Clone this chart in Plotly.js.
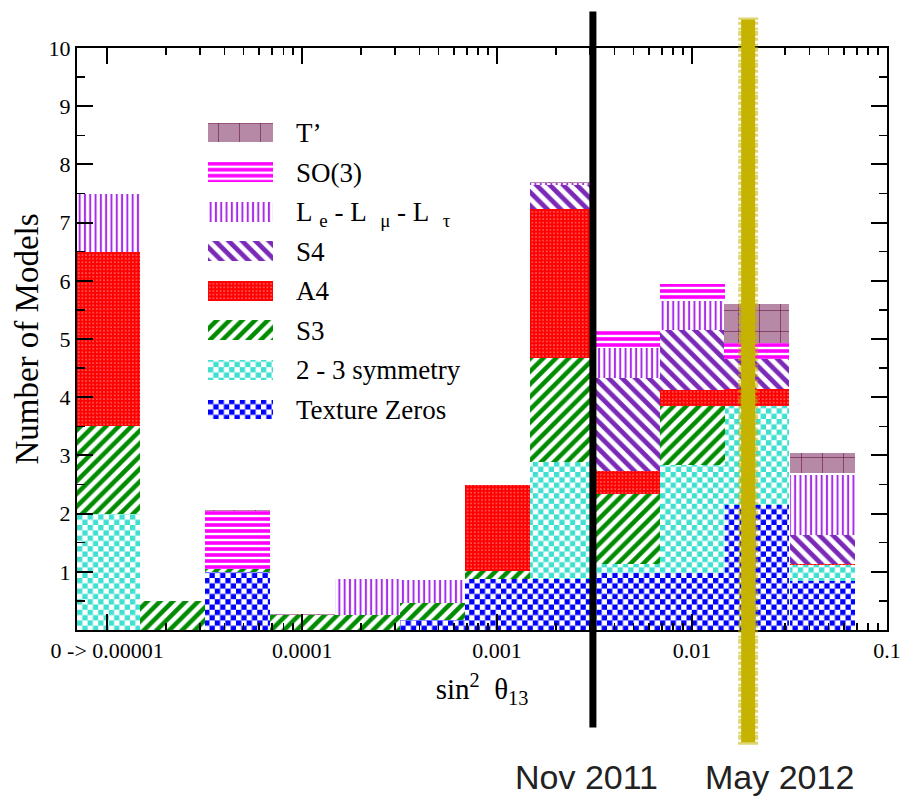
<!DOCTYPE html>
<html>
<head>
<meta charset="utf-8">
<script src="https://cdn.plot.ly/plotly-3.0.1.min.js"></script>
<style>html,body{margin:0;padding:0;background:#fff}</style>
</head>
<body>
<div id="chart" style="width:903px;height:802px"></div>
<script>
// Bin centres in log10(sin^2 theta13); every bin spans one third of a decade.
const binLog10 = [-5, -4.667, -4.333, -4, -3.667, -3.333, -3, -2.667, -2.333, -2, -1.667, -1.333];
const binWidth = 1 / 3;

// Bottom axis labels (decades)
const tickLog10 = [-5, -4, -3, -2, -1];
const tickLabels = ['0 -> 0.00001', '0.0001', '0.001', '0.01', '0.1'];
const yTicks = [1, 2, 3, 4, 5, 6, 7, 8, 9, 10];

// Number of models per bin, one array per symmetry class (stacked bottom to top)
const textureZeros = [0, 0, 1.0, 0, 0, 0.18, 0.88, 0.88, 0.98, 0.98, 2.14, 0.84];
const twoThreeSym  = [2.0, 0, 0, 0, 0, 0, 0, 2.0, 0.16, 1.86, 1.71, 0.28];
const s3           = [1.5, 0.5, 0.05, 0.26, 0.26, 0.28, 0.14, 1.8, 1.19, 1.01, 0, 0];
const a4           = [3.0, 0, 0, 0, 0, 0, 1.48, 2.56, 0.41, 0.28, 0.29, 0.02];
const s4           = [0, 0, 0, 0, 0, 0, 0, 0.41, 1.59, 1.02, 0.51, 0.5];
const leLmuLtau    = [1.0, 0, 0, 0, 0.61, 0.4, 0, 0.03, 0.51, 0.5, 0, 1.03];
const so3          = [0, 0, 1.0, 0, 0, 0, 0, 0, 0.32, 0.3, 0.28, 0.03];
const tPrime       = [0, 0, 0.01, 0.01, 0, 0, 0, 0.02, 0, 0, 0.68, 0.34];

const seriesNames = ['Texture Zeros', '2 - 3 symmetry', 'S3', 'A4', 'S4', 'Le-Lmu-Ltau', 'SO(3)', "T'"];
const legendLabels = ['Texture Zeros', '2 - 3 symmetry', 'S3', 'A4', 'S4',
  'L\u00A0<sub>e</sub>\u00A0-\u00A0L\u00A0\u00A0<sub>\u03BC</sub>\u00A0-\u00A0L\u00A0\u00A0<sub>\u03C4</sub>',
  'SO(3)', 'T\u2019'];
const seriesValues = [textureZeros, twoThreeSym, s3, a4, s4, leLmuLtau, so3, tPrime];

// Measurement dates (sin^2 theta13)
const nov2011 = 0.0031;
const may2012 = 0.0194;
const dateLabels = ['Nov 2011', 'May 2012'];

const SERIF = '"Liberation Serif", "Times New Roman", Times, serif';
const SANS = '"Liberation Sans", Arial, Helvetica, sans-serif';
const CHECK = 10.6;   // checkerboard tile size

const markerStyles = [
  {color: '#ffffff', line: {width: 0}, pattern: {shape: '.', fillmode: 'overlay', fgcolor: '#0000ff', fgopacity: 1, size: CHECK, solidity: 0.5}},
  {color: '#ffffff', line: {width: 0}, pattern: {shape: '.', fillmode: 'overlay', fgcolor: '#40e0d0', fgopacity: 1, size: CHECK, solidity: 0.5}},
  {color: '#ffffff', line: {width: 0}, pattern: {shape: '/', fillmode: 'overlay', fgcolor: '#008c00', fgopacity: 1, size: 9, solidity: 0.5}},
  {color: '#ff0000', line: {width: 0}, pattern: {shape: '.', fillmode: 'overlay', fgcolor: '#ff9a9a', fgopacity: 1, size: 3.6, solidity: 0.14}},
  {color: '#ffffff', line: {width: 0}, pattern: {shape: '\\', fillmode: 'overlay', fgcolor: '#7b2ab8', fgopacity: 1, size: 9.5, solidity: 0.5}},
  {color: '#ffffff', line: {width: 0}, pattern: {shape: '|', fillmode: 'overlay', fgcolor: '#a72ee8', fgopacity: 1, size: 5.3, solidity: 0.38}},
  {color: '#ffffff', line: {width: 0}, pattern: {shape: '-', fillmode: 'overlay', fgcolor: '#ff00ff', fgopacity: 1, size: 6, solidity: 0.6}},
  {color: '#b68aa6', line: {width: 0}, pattern: {shape: '+', fillmode: 'overlay', fgcolor: '#6b1a45', fgopacity: 1, size: 21, solidity: 0.06}}
];

const traces = [];
seriesValues.forEach((vals, i) => {
  traces.push({
    type: 'bar', name: seriesNames[i], x: binLog10, y: vals, width: binWidth,
    marker: markerStyles[i], xaxis: 'x', yaxis: 'y', showlegend: false, hoverinfo: 'skip'
  });
});
// Legend swatches drawn as a small bar panel
seriesNames.forEach((name, i) => {
  traces.push({
    type: 'bar', orientation: 'h', name: name, x: [1], y: [name], width: 0.5,
    marker: markerStyles[i], xaxis: 'x2', yaxis: 'y2', showlegend: false, hoverinfo: 'skip'
  });
});

// minor ticks at 2..9 within each decade
const minorLog = [];
for (let d = -5; d < -1; d++) for (let k = 2; k <= 9; k++) minorLog.push(d + Math.log10(k));

const frame = {
  showline: true, linecolor: '#000', linewidth: 2, mirror: 'ticks',
  ticks: 'inside', ticklen: 16, tickwidth: 2, tickcolor: '#000',
  showgrid: false, zeroline: false
};

const layout = {
  width: 903, height: 802, autosize: false,
  margin: {l: 77, r: 16, t: 48, b: 172},
  paper_bgcolor: '#ffffff', plot_bgcolor: 'rgba(0,0,0,0)',
  barmode: 'stack', bargap: 0, showlegend: false,
  font: {family: SERIF, color: '#000'},
  xaxis: Object.assign({}, frame, {
    range: [-5.155, -1], tickmode: 'array', tickvals: tickLog10, ticktext: tickLabels,
    tickfont: {family: SERIF, size: 22, color: '#000'},
    minor: {tickmode: 'array', tickvals: minorLog, ticks: 'inside', ticklen: 7, tickwidth: 1.5, tickcolor: '#000'},
    title: {text: 'sin<sup>2</sup>\u00A0 \u03B8<sub>13</sub>', font: {family: SERIF, size: 29, color: '#000'}, standoff: 16}
  }),
  yaxis: Object.assign({}, frame, {
    range: [0, 10], tickmode: 'array', tickvals: yTicks, ticktext: yTicks.map(String),
    tickfont: {family: SERIF, size: 22, color: '#000'},
    minor: {tick0: 0, dtick: 0.5, ticks: 'inside', ticklen: 8, tickwidth: 1.5, tickcolor: '#000'},
    title: {text: 'Number of Models', font: {family: SERIF, size: 33, color: '#000'}, standoff: 0}
  }),
  xaxis2: {domain: [0.1617, 0.2420], anchor: 'y2', range: [0, 1], visible: false, fixedrange: true},
  yaxis2: {
    domain: [0.3448, 0.8888], anchor: 'x2', side: 'right', type: 'category',
    categoryorder: 'array', categoryarray: seriesNames,
    tickmode: 'array', tickvals: seriesNames, ticktext: legendLabels,
    showline: false, showgrid: false, zeroline: false, ticks: '',
    ticklabelstandoff: 22, tickfont: {family: SERIF, size: 27, color: '#000'}
  },
  shapes: [
    {type: 'line', xref: 'x', yref: 'paper', x0: Math.log10(nov2011), x1: Math.log10(nov2011),
     y0: -0.1675, y1: 1.0627, line: {color: '#000000', width: 7}, layer: 'above'},
    {type: 'line', xref: 'x', yref: 'paper', x0: Math.log10(may2012), x1: Math.log10(may2012),
     y0: -0.197, y1: 1.0525, line: {color: '#c5b300', width: 20, dash: '3px,2px,5px,1px,2px,3px'}, opacity: 0.55, layer: 'above'},
    {type: 'line', xref: 'x', yref: 'paper', x0: Math.log10(may2012), x1: Math.log10(may2012),
     y0: -0.193, y1: 1.049, line: {color: '#c5b300', width: 14}, layer: 'above'}
  ],
  annotations: [
    {xref: 'paper', yref: 'paper', x: 0.6284, y: -0.2534, text: dateLabels[0], showarrow: false,
     xanchor: 'center', yanchor: 'middle', font: {family: SANS, size: 34, color: '#222'}},
    {xref: 'paper', yref: 'paper', x: 0.8679, y: -0.2534, text: dateLabels[1], showarrow: false,
     xanchor: 'center', yanchor: 'middle', font: {family: SANS, size: 34, color: '#222'}}
  ]
};

// Turn the dot tiles of the two checkered series into true checkerboards
function checkerise(gd) {
  const NS = 'http://www.w3.org/2000/svg';
  gd.querySelectorAll('pattern').forEach(p => {
    const w = parseFloat(p.getAttribute('width'));
    if (!(Math.abs(w - CHECK) < 0.05)) return;
    const dot = p.querySelector('circle');
    if (!dot) return;
    const fg = dot.getAttribute('fill') || dot.style.fill;
    const h = w / 2;
    while (p.firstChild) p.removeChild(p.firstChild);
    [[0, 0, w, w, '#ffffff'], [0, 0, h, h, fg], [h, h, h, h, fg]].forEach(([x, y, rw, rh, c]) => {
      const r = document.createElementNS(NS, 'rect');
      r.setAttribute('x', x); r.setAttribute('y', y);
      r.setAttribute('width', rw); r.setAttribute('height', rh);
      r.setAttribute('fill', c);
      p.appendChild(r);
    });
  });
}

const gd = document.getElementById('chart');
Plotly.newPlot(gd, traces, layout, {staticPlot: true, displayModeBar: false}).then(() => checkerise(gd));
</script>
</body>
</html>
